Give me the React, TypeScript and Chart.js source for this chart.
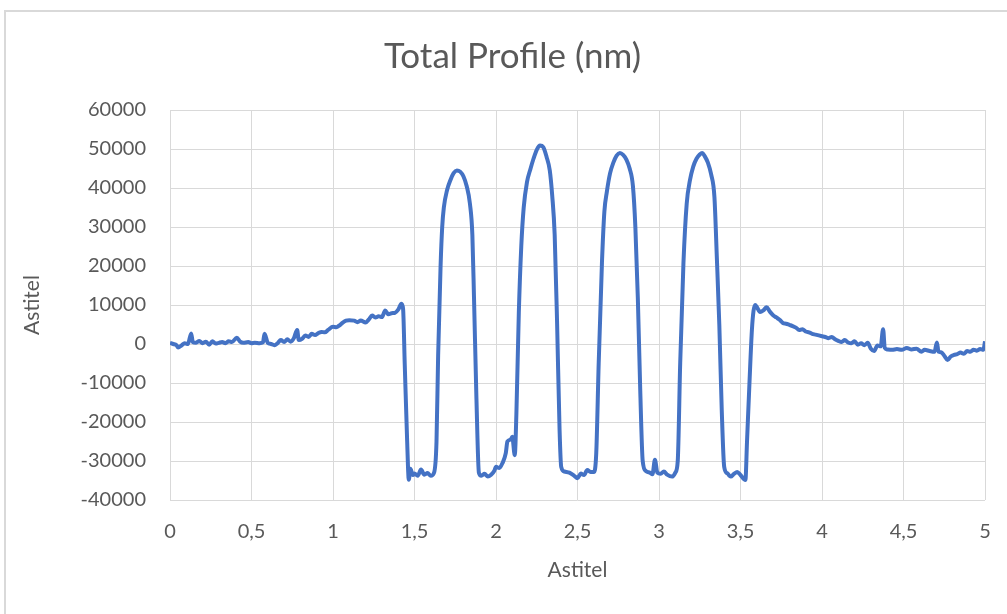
import React, { useEffect, useRef } from "react";
import { Chart, registerables } from "chart.js";

Chart.register(...registerables);

const TITLE = "Total Profile (nm)";
const X_TITLE = "Astitel";
const Y_TITLE = "Astitel";

const xValues: number[] = [
  0.0, 0.02, 0.04, 0.05, 0.07, 0.09, 0.11, 0.13, 0.14, 0.16, 0.18, 0.2, 0.22, 0.24, 0.26, 0.28, 0.3, 0.32, 0.34, 0.36,
  0.38, 0.41, 0.43, 0.45, 0.48, 0.5, 0.52, 0.55, 0.57, 0.58, 0.6, 0.62, 0.64, 0.66, 0.68, 0.7, 0.72, 0.74, 0.76, 0.78,
  0.79, 0.81, 0.83, 0.85, 0.87, 0.89, 0.91, 0.93, 0.95, 0.97, 1.0, 1.02, 1.04, 1.06, 1.08, 1.1, 1.13, 1.15, 1.17, 1.2,
  1.22, 1.24, 1.26, 1.28, 1.3, 1.32, 1.34, 1.36, 1.38, 1.4, 1.42, 1.43, 1.44, 1.455, 1.465, 1.475, 1.49, 1.5, 1.52, 1.54,
  1.56, 1.58, 1.6, 1.62, 1.635, 1.645, 1.66, 1.67, 1.68, 1.7, 1.72, 1.74, 1.76, 1.78, 1.8, 1.82, 1.84, 1.855, 1.865, 1.88,
  1.895, 1.91, 1.93, 1.95, 1.97, 1.99, 2.0, 2.02, 2.04, 2.06, 2.07, 2.09, 2.1, 2.115, 2.125, 2.14, 2.155, 2.17, 2.19, 2.21,
  2.23, 2.25, 2.27, 2.29, 2.31, 2.33, 2.345, 2.36, 2.375, 2.39, 2.4, 2.42, 2.45, 2.48, 2.5, 2.52, 2.54, 2.56, 2.58, 2.6,
  2.615, 2.63, 2.65, 2.665, 2.68, 2.7, 2.72, 2.74, 2.76, 2.78, 2.8, 2.82, 2.84, 2.855, 2.87, 2.885, 2.9, 2.92, 2.945, 2.96,
  2.975, 2.99, 3.01, 3.03, 3.05, 3.08, 3.1, 3.115, 3.13, 3.15, 3.17, 3.19, 3.21, 3.23, 3.25, 3.265, 3.28, 3.3, 3.32, 3.34,
  3.355, 3.37, 3.385, 3.4, 3.42, 3.44, 3.46, 3.48, 3.5, 3.53, 3.54, 3.555, 3.57, 3.58, 3.59, 3.6, 3.62, 3.64, 3.66, 3.68,
  3.7, 3.72, 3.74, 3.76, 3.78, 3.8, 3.82, 3.84, 3.86, 3.88, 3.9, 3.92, 3.94, 3.96, 3.98, 4.0, 4.02, 4.04, 4.06, 4.08,
  4.1, 4.12, 4.14, 4.16, 4.18, 4.2, 4.22, 4.24, 4.26, 4.28, 4.3, 4.32, 4.34, 4.36, 4.375, 4.385, 4.4, 4.43, 4.46, 4.49,
  4.52, 4.55, 4.58, 4.61, 4.63, 4.66, 4.69, 4.705, 4.715, 4.73, 4.75, 4.77, 4.79, 4.81, 4.83, 4.85, 4.87, 4.89, 4.91, 4.93,
  4.95, 4.97, 4.99, 5.0,
];

const profileValues: number[] = [
  300, 0, -300, -900, -400, 200, 0, 2700, 500, 300, 800, 200, 600, -200, 700, 100, 300, 500, 200, 700,
  500, 1600, 600, 300, 500, 200, 300, 200, 400, 2600, 300, 0, -300, 200, 1000, 500, 1200, 600, 1500, 3600,
  1000, 1300, 2200, 1800, 2600, 2300, 2800, 3100, 3000, 3600, 4400, 4300, 4800, 5500, 6000, 6100, 6000, 5600, 6000, 5500,
  6300, 7300, 6800, 7100, 6900, 8600, 7600, 7900, 8000, 8800, 10300, 9000, -5000, -25000, -34800, -32000, -33600, -33200, -33800, -32200,
  -33500, -33100, -33800, -33000, -25000, -3000, 20000, 30000, 35000, 39500, 42000, 43800, 44500, 44200, 43000, 40500, 36000, 28000, 12000, -14000,
  -33000, -33800, -33300, -34000, -33500, -32500, -31500, -31800, -30500, -28000, -25000, -24500, -23800, -28500, -18000, 8000, 25000, 35000, 41500, 44700,
  47500, 49800, 50900, 50500, 48000, 44500, 38000, 28000, 5000, -22000, -31500, -32700, -33000, -33800, -34400, -33200, -33600, -32300, -32800, -32800,
  -28000, -5000, 20800, 34000, 39000, 43800, 46500, 48300, 49000, 48500, 47300, 45000, 40500, 30000, 12000, -12000, -30000, -32600, -33000, -33400,
  -29700, -33000, -33300, -32700, -33500, -34000, -33000, -30000, -5000, 20800, 36000, 42000, 45500, 47500, 48600, 49000, 48200, 46500, 43500, 37700,
  22000, 5000, -17000, -31500, -33200, -34000, -33300, -32800, -33600, -34900, -25000, -10000, 3600, 8500, 10000, 9500, 8200, 8600, 9400, 8300,
  7400, 6800, 6200, 5400, 5200, 4900, 4600, 4200, 3600, 3800, 3200, 3000, 2600, 2400, 2200, 2000, 1800, 1500, 1800, 1200,
  800, 500, 1000, 400, 200, 700, -200, 200, -300, 300, -1200, -1800, -400, -600, 3800, -1000, -1400, -1500, -1300, -1500,
  -1000, -1400, -1200, -2000, -1500, -1800, -2000, 400, -2000, -2100, -3000, -4100, -3200, -2800, -2600, -2200, -2500, -1800, -2000, -1500,
  -1700, -1300, -1500, 700,
];

const X_MIN = 0;
const X_MAX = 5;
const X_STEP = 0.5;
const Y_MIN = -40000;
const Y_MAX = 60000;
const Y_STEP = 10000;

const FONT = "Lato, 'Open Sans', sans-serif";
const TEXT_COLOR = "#595959";
const GRID_COLOR = "#d9d9d9";
const LINE_COLOR = "#4472C4";

export default function App() {
  const canvasRef = useRef<HTMLCanvasElement | null>(null);

  useEffect(() => {
    const canvas = canvasRef.current;
    if (!canvas) return;
    const points = xValues.map((x, i) => ({ x, y: profileValues[i] }));
    const chart = new Chart(canvas, {
      type: "line",
      data: {
        datasets: [
          {
            label: TITLE,
            data: points,
            borderColor: LINE_COLOR,
            backgroundColor: LINE_COLOR,
            borderWidth: 4,
            pointRadius: 0,
            cubicInterpolationMode: "monotone",
            fill: false,
          },
        ],
      },
      options: {
        animation: false,
        responsive: false,
        maintainAspectRatio: false,
        layout: { padding: { left: 40, right: 22, top: 0, bottom: 0 } },
        plugins: {
          legend: { display: false },
          tooltip: { enabled: false },
          title: {
            display: true,
            text: TITLE,
            color: TEXT_COLOR,
            font: { family: FONT, size: 35, weight: "normal" },
            padding: { top: 36, bottom: 32 },
          },
        },
        scales: {
          x: {
            type: "linear",
            min: X_MIN,
            max: X_MAX,
            afterFit: (scale: any) => {
              scale.height = 114;
              scale.paddingLeft = 0;
              scale.paddingRight = 0;
            },
            ticks: {
              stepSize: X_STEP,
              color: TEXT_COLOR,
              font: { family: FONT, size: 20 },
              padding: 20,
              maxRotation: 0,
              autoSkip: false,
              callback: (v: any) => String(v).replace(".", ","),
            },
            grid: { color: GRID_COLOR, lineWidth: 1, drawTicks: false },
            border: { display: false },
            title: {
              display: true,
              text: X_TITLE,
              color: TEXT_COLOR,
              font: { family: FONT, size: 21 },
              padding: { top: 0, bottom: 31 },
            },
          },
          y: {
            type: "linear",
            min: Y_MIN,
            max: Y_MAX,
            afterFit: (scale: any) => {
              scale.width = 130;
              scale.paddingTop = 0;
              scale.paddingBottom = 0;
            },
            ticks: {
              stepSize: Y_STEP,
              color: TEXT_COLOR,
              font: { family: FONT, size: 20 },
              padding: 24,
              callback: (v: any) => String(v),
            },
            grid: { color: GRID_COLOR, lineWidth: 1, drawTicks: false },
            border: { display: false },
            title: {
              display: true,
              text: Y_TITLE,
              color: TEXT_COLOR,
              font: { family: FONT, size: 21 },
              padding: { top: -20.6, bottom: 0 },
            },
          },
        },
      },
    });
    return () => chart.destroy();
  }, []);

  return (
    <div style={{ position: "fixed", left: 0, top: 0, width: 1007, height: 614, background: "#fff", overflow: "hidden" }}>
      <div
        style={{
          position: "absolute",
          left: 4,
          top: 10,
          width: 1100,
          height: 700,
          border: "2px solid #d9d9d9",
        }}
      />
      <canvas ref={canvasRef} width={1007} height={614} style={{ position: "absolute", left: 0, top: 0 }} />
    </div>
  );
}
